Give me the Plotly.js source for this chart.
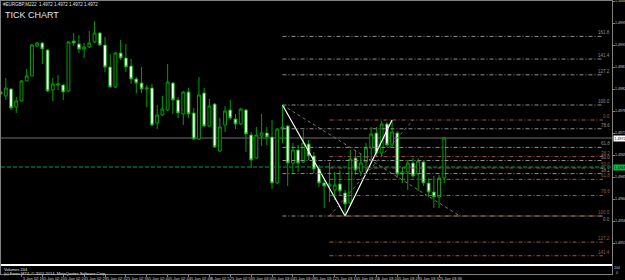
<!DOCTYPE html>
<html><head><meta charset="utf-8">
<script src="https://cdn.plot.ly/plotly-3.0.1.min.js"></script>
<style>html,body{margin:0;padding:0;background:#000;overflow:hidden}#chart{width:625px;height:280px}</style>
</head><body><div id="chart"></div>
<script>
// ---- data (prices) ----
const openP = [1.49816,1.49808,1.49822,1.49786,1.49798,1.49838,1.49848,1.49908,1.49914,1.49900,
 1.49820,1.49830,1.49830,1.49818,1.49918,1.49912,1.49902,1.49906,1.49916,1.49934,
 1.49910,1.49866,1.49826,1.49894,1.49884,1.49868,1.49842,1.49834,1.49822,1.49824,
 1.49754,1.49770,1.49780,1.49834,1.49800,1.49772,1.49816,1.49774,1.49722,1.49814,
 1.49748,1.49792,1.49698,1.49750,1.49780,1.49762,1.49752,1.49780,1.49730,1.49684,
 1.49728,1.49734,1.49726,1.49634,1.49742,1.49748,1.49674,1.49700,1.49676,1.49712,
 1.49688,1.49662,1.49634,1.49628,1.49620,1.49632,1.49614,1.49594,1.49684,1.49656,
 1.49676,1.49704,1.49734,1.49694,1.49752,1.49710,1.49734,1.49652,1.49656,1.49674,
 1.49652,1.49676,1.49634,1.49616,1.49606,1.49644];
const highP = [1.49832,1.49844,1.49824,1.49806,1.49840,1.49862,1.49912,1.49916,1.49916,1.49902,
 1.49844,1.49850,1.49832,1.49918,1.49934,1.49930,1.49914,1.49938,1.49958,1.49936,
 1.49926,1.49892,1.49896,1.49920,1.49912,1.49882,1.49846,1.49866,1.49830,1.49832,
 1.49790,1.49808,1.49872,1.49836,1.49806,1.49818,1.49824,1.49784,1.49846,1.49824,
 1.49802,1.49794,1.49764,1.49788,1.49800,1.49772,1.49784,1.49782,1.49736,1.49746,
 1.49772,1.49746,1.49760,1.49744,1.49790,1.49750,1.49714,1.49710,1.49740,1.49720,
 1.49696,1.49670,1.49644,1.49676,1.49656,1.49660,1.49620,1.49700,1.49700,1.49694,
 1.49714,1.49746,1.49746,1.49758,1.49756,1.49760,1.49738,1.49666,1.49680,1.49684,
 1.49684,1.49678,1.49644,1.49648,1.49650,1.49726];
const lowP = [1.49806,1.49800,1.49780,1.49774,1.49798,1.49838,1.49848,1.49906,1.49872,1.49816,
 1.49798,1.49820,1.49800,1.49816,1.49908,1.49894,1.49884,1.49904,1.49914,1.49908,
 1.49856,1.49824,1.49824,1.49880,1.49856,1.49832,1.49814,1.49814,1.49786,1.49748,
 1.49742,1.49768,1.49778,1.49772,1.49764,1.49750,1.49764,1.49720,1.49720,1.49746,
 1.49746,1.49704,1.49696,1.49736,1.49760,1.49742,1.49750,1.49696,1.49664,1.49682,
 1.49708,1.49710,1.49622,1.49632,1.49714,1.49628,1.49654,1.49656,1.49674,1.49680,
 1.49654,1.49626,1.49584,1.49596,1.49600,1.49610,1.49568,1.49588,1.49650,1.49648,
 1.49656,1.49676,1.49686,1.49688,1.49706,1.49706,1.49644,1.49634,1.49620,1.49644,
 1.49618,1.49628,1.49606,1.49584,1.49584,1.49634];
const closeP = [1.49812,1.49824,1.49784,1.49798,1.49838,1.49848,1.49910,1.49914,1.49902,1.49818,
 1.49832,1.49832,1.49816,1.49916,1.49914,1.49902,1.49906,1.49914,1.49934,1.49910,
 1.49866,1.49826,1.49894,1.49884,1.49866,1.49842,1.49834,1.49822,1.49824,1.49750,
 1.49770,1.49782,1.49836,1.49800,1.49774,1.49816,1.49772,1.49722,1.49810,1.49748,
 1.49788,1.49706,1.49746,1.49778,1.49764,1.49752,1.49782,1.49732,1.49680,1.49730,
 1.49734,1.49726,1.49634,1.49742,1.49746,1.49674,1.49700,1.49674,1.49714,1.49688,
 1.49662,1.49634,1.49628,1.49632,1.49630,1.49618,1.49592,1.49682,1.49660,1.49674,
 1.49704,1.49732,1.49694,1.49752,1.49710,1.49736,1.49652,1.49656,1.49674,1.49648,
 1.49678,1.49634,1.49616,1.49606,1.49644,1.49724];

const timeTickIdx = [0,4,8,12,16,20,24,28,32,36,40,44,48,52,56,60,64,68,72,76,80,84];
const timeTickText = ['1 Jan 1970','5 Jan 02:16','5 Jan 02:20','5 Jan 02:24','5 Jan 02:28','5 Jan 02:32',
 '5 Jan 02:36','5 Jan 02:40','5 Jan 02:44','5 Jan 02:48','5 Jan 02:52','5 Jan 02:56','5 Jan 03:00',
 '5 Jan 03:04','5 Jan 03:08','5 Jan 03:12','5 Jan 03:16','5 Jan 03:20','5 Jan 03:24','5 Jan 03:28',
 '5 Jan 03:32','5 Jan 03:36'];
const priceTicks = [1.49998,1.49954,1.49910,1.49866,1.49822,1.49778,1.49734,1.49690,1.49646,1.49602,1.49558,1.49514];

const zigzagIdx = [54, 66, 75];           // pivot candles (high, low, high)
const greyLevels = [0, 38.2, 50, 61.8, 78.6, 100, 127.2, 141.4, 161.8];
const brownLevels = [0, 38.2, 50, 61.8, 78.6, 100, 127.2, 141.4];
const greyFibStart = 54, brownFibStart = 63, fibEnd = 115.4;
const greyTrendEnd = 88, brownTrendEnd = 79;
const greenLevel = 1.49666;
const symbolTitle = '#EURGBP,M222  1.4972 1.4972 1.4972 1.4972';

// ---- build ----
const idx = openP.map((_, i) => i);
const FONT = 'Liberation Sans, Arial, sans-serif';
const pxTop = 1, pxBot = 274; // plot area rows on the page
const paperY = py => (pxBot - py) / (pxBot - pxTop);

const hi1 = highP[zigzagIdx[0]], lo = lowP[zigzagIdx[1]], hi2 = highP[zigzagIdx[2]];

const shapes = [];
const annotations = [];
const GREY = '#8e8e8e', BROWN = '#9c5a3e';
greyLevels.forEach(l => {
  const p = lo + l / 100 * (hi1 - lo);
  shapes.push({type:'line', xref:'x', yref:'y', x0:greyFibStart, x1:fibEnd, y0:p, y1:p,
    line:{color:GREY, width:1, dash:'4px,2px,1px,2px'}});
  annotations.push({xref:'paper', yref:'y', x:0.998, y:p, xanchor:'right', yanchor: l === 0 ? 'top' : 'bottom',
    text:l.toFixed(1), showarrow:false, font:{size:4.5, color:GREY, family:FONT}, borderpad:0});
});
brownLevels.forEach(l => {
  const p = hi2 + l / 100 * (lo - hi2);
  shapes.push({type:'line', xref:'x', yref:'y', x0:brownFibStart, x1:fibEnd, y0:p, y1:p,
    line:{color:BROWN, width:1, dash:'4px,2px,1px,2px'}});
  annotations.push({xref:'paper', yref:'y', x:0.998, y:p, xanchor:'right', yanchor:'bottom',
    text:l.toFixed(1), showarrow:false, font:{size:4.5, color:BROWN, family:FONT}, borderpad:0});
});
// fib anchor trend lines (dotted)
shapes.push({type:'line', xref:'x', yref:'y', x0:zigzagIdx[0], y0:hi1, x1:greyTrendEnd, y1:lo,
  line:{color:'#7a7a7a', width:1, dash:'dot'}});
shapes.push({type:'line', xref:'x', yref:'y', x0:brownFibStart, y0:lo, x1:brownTrendEnd, y1:hi2,
  line:{color:'#7a6a60', width:1, dash:'dot'}});
// bid line
const bid = closeP[closeP.length - 1];
shapes.push({type:'line', xref:'paper', yref:'y', x0:0, x1:1, y0:bid, y1:bid,
  line:{color:'#6e6e6e', width:1}, layer:'below'});
// green dashed level
shapes.push({type:'line', xref:'paper', yref:'y', x0:0, x1:1, y0:greenLevel, y1:greenLevel,
  line:{color:'#009a55', width:1, dash:'4px,2px'}, layer:'below'});
// volume sub-window separator
shapes.push({type:'line', xref:'paper', yref:'paper', x0:0, x1:1, y0:paperY(265), y1:paperY(265),
  line:{color:'#ffffff', width:2}});

// price scale labels (small, right of the axis)
priceTicks.forEach(v => {
  annotations.push({xref:'paper', yref:'y', x:1, y:v, xanchor:'left', yanchor:'middle', text:v.toFixed(4),
    showarrow:false, font:{size:3.6, color:'#d0d0d0', family:FONT}, borderpad:0, xshift:2});
});
annotations.push({xref:'paper', yref:'y', x:1, y:bid, xanchor:'left', yanchor:'middle', text:bid.toFixed(4),
  showarrow:false, bgcolor:'#ffffff', font:{size:3.6, color:'#000', family:FONT}, borderpad:0.5, xshift:1});
annotations.push({xref:'paper', yref:'y', x:1, y:greenLevel, xanchor:'left', yanchor:'middle', text:greenLevel.toFixed(4),
  showarrow:false, bgcolor:'#00c040', font:{size:3.6, color:'#000', family:FONT}, borderpad:0.5, xshift:1});
annotations.push({xref:'paper', yref:'paper', x:0.002, y:paperY(1), xanchor:'left', yanchor:'top',
  text:symbolTitle, showarrow:false, font:{size:4.5, color:'#e0e0e0', family:FONT}, borderpad:0});
annotations.push({xref:'paper', yref:'paper', x:(4 - 1) / 611, y:paperY(8.5), xanchor:'left', yanchor:'top',
  text:'TICK CHART', showarrow:false, font:{size:9, color:'#dde6f2', family:FONT}, borderpad:0});
annotations.push({xref:'paper', yref:'paper', x:0.003, y:paperY(266.3), xanchor:'left', yanchor:'top',
  text:'Volumes 204', showarrow:false, font:{size:4, color:'#e0e0e0', family:FONT}, borderpad:0});
annotations.push({xref:'paper', yref:'paper', x:0.003, y:paperY(269.6), xanchor:'left', yanchor:'top',
  text:'(c) Forex MT4, © 2001-2014, MetaQuotes Software Corp.', showarrow:false, font:{size:4, color:'#e0e0e0', family:FONT}, borderpad:0});
annotations.push({xref:'paper', yref:'paper', x:1, y:paperY(264.5), xanchor:'left', yanchor:'top',
  text:'204<br>0', showarrow:false, font:{size:3.5, color:'#c0c0c0', family:FONT}, borderpad:0, xshift:1});
// time axis labels, drawn just right of each tick like the terminal does
timeTickIdx.forEach((ti, k) => {
  annotations.push({xref:'x', yref:'paper', x:ti, y:paperY(274.8), xanchor:'left', yanchor:'top',
    text:timeTickText[k], showarrow:false, font:{size:4, color:'#d0d0d0', family:FONT}, borderpad:0, xshift:1});
});

const traces = [
  {type:'candlestick', x:idx, open:openP, high:highP, low:lowP, close:closeP,
   increasing:{line:{color:'#00a000', width:1}, fillcolor:'#000000'},
   decreasing:{line:{color:'#00a000', width:1}, fillcolor:'#ffffff'},
   whiskerwidth:0, hoverinfo:'none', showlegend:false},
  {type:'scatter', mode:'lines', x:zigzagIdx, y:[hi1, lo, hi2],
   line:{color:'#ffffff', width:1.2}, hoverinfo:'none', showlegend:false}
];

const layout = {
  width:625, height:280,
  margin:{l:1, r:13, t:1, b:6, pad:0},
  paper_bgcolor:'#000000', plot_bgcolor:'#000000',
  showlegend:false, boxgap:0.22,
  xaxis:{range:[0.0766, 117.13], showgrid:false, zeroline:false, showline:true, mirror:true,
    linecolor:'#808080', linewidth:1, tickmode:'array', tickvals:timeTickIdx, showticklabels:false,
    ticks:'outside', ticklen:2, tickcolor:'#808080',
    rangeslider:{visible:false}, fixedrange:true, automargin:false},
  yaxis:{range:[1.49452, 1.49998], side:'right', showgrid:false, zeroline:false, showline:true, mirror:true,
    linecolor:'#808080', linewidth:1, tickmode:'array', tickvals:priceTicks, showticklabels:false,
    ticks:'outside', ticklen:2, tickcolor:'#808080', fixedrange:true, automargin:false},
  shapes:shapes, annotations:annotations
};

Plotly.newPlot('chart', traces, layout, {staticPlot:true, displayModeBar:false});
</script></body></html>
